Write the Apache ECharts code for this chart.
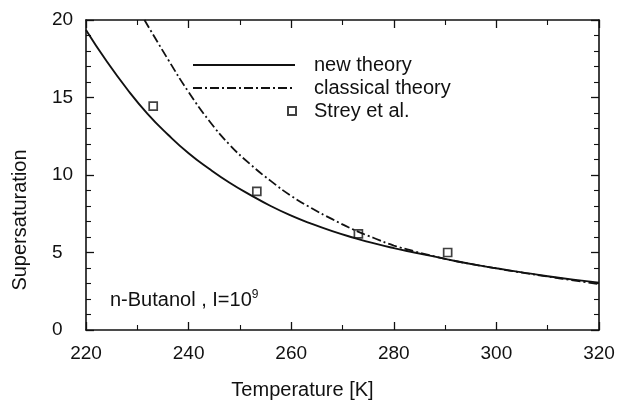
<!DOCTYPE html>
<html>
<head>
<meta charset="utf-8">
<script src="https://cdn.jsdelivr.net/npm/echarts@6.0.0/dist/echarts.min.js"></script>
<style>
  html, body { margin: 0; padding: 0; background: #fff; }
  #chart { width: 618px; height: 405px; }
</style>
</head>
<body>
<div id="chart"></div>
<script>
// values
const newTemps  = [220, 224, 228, 232, 236, 240, 244, 248, 252, 256, 260, 264, 268, 272, 276, 280, 284, 288, 292, 296, 300, 305, 310, 315, 320];
const newSat    = [19.36, 17.35, 15.55, 13.95, 12.6, 11.4, 10.4, 9.5, 8.72, 8.0, 7.38, 6.85, 6.38, 5.97, 5.6, 5.28, 5.0, 4.73, 4.45, 4.2, 3.98, 3.72, 3.47, 3.25, 3.06];

const classicTemps = [231.4, 236, 240, 244, 248, 252, 256, 260, 264, 268, 272, 276, 280, 284, 288, 292, 296, 300, 305, 310, 315, 320];
const classicSat   = [20, 17.45, 15.35, 13.5, 11.95, 10.7, 9.62, 8.65, 7.85, 7.15, 6.5, 5.95, 5.45, 5.08, 4.75, 4.45, 4.2, 3.97, 3.7, 3.45, 3.2, 2.97];

const streyTemps = [233.1, 253.3, 273.1, 290.5];
const streySat   = [14.45, 8.95, 6.2, 5.0];

const xTicks = [220, 240, 260, 280, 300, 320];
const yTicks = [0, 5, 10, 15, 20];

const ink = '#111';
const textFont = 'Liberation Sans';

const pair = (xs, ys) => xs.map((x, i) => [x, ys[i]]);

const axisBase = {
  axisLine: { show: true, onZero: false, lineStyle: { color: ink, width: 1.6 } },
  axisTick: { show: true, inside: true, length: 8, lineStyle: { color: ink, width: 1.3 } },
  minorTick: { show: true, length: 5, lineStyle: { color: ink, width: 1.1 } },
  splitLine: { show: false }
};

const myChart = echarts.init(document.getElementById('chart'));
myChart.setOption({
  animation: false,
  backgroundColor: '#fff',
  grid: { left: 86, right: 19, top: 20, bottom: 72 },
  title: {
    left: 105,
    top: 284,
    text: '{t|n-Butanol , I=10}{s|9}',
    textStyle: {
      rich: {
        t: { fontFamily: textFont, fontSize: 20, fontWeight: 'normal', color: ink },
        s: { fontFamily: textFont, fontSize: 12, fontWeight: 'normal', color: ink, verticalAlign: 'top', padding: [0, 0, 10, 0] }
      }
    }
  },
  legend: [
    {
      data: ['new theory', 'classical theory'],
      orient: 'vertical',
      left: 192,
      top: 55,
      padding: 0,
      itemWidth: 102,
      itemHeight: 14,
      itemGap: 3,
      itemStyle: { opacity: 0 },
      textStyle: { fontFamily: textFont, fontSize: 20, color: ink, lineHeight: 20, padding: [0, 0, 0, 14] }
    },
    {
      data: ['Strey et al.'],
      left: 287,
      top: 101,
      padding: 0,
      itemWidth: 8,
      itemHeight: 8,
      textStyle: { fontFamily: textFont, fontSize: 20, color: ink, lineHeight: 20, padding: [0, 0, 0, 13] }
    }
  ],
  xAxis: [
    Object.assign({}, axisBase, {
      type: 'value',
      min: xTicks[0],
      max: xTicks[xTicks.length - 1],
      interval: 20,
      minorTick: Object.assign({}, axisBase.minorTick, { splitNumber: 2 }),
      axisLabel: { fontFamily: textFont, fontSize: 19, color: ink, margin: 14 },
      name: 'Temperature [K]',
      nameLocation: 'middle',
      nameGap: 50,
      nameTextStyle: { fontFamily: textFont, fontSize: 20, color: ink, padding: [0, 80, 0, 0] }
    }),
    Object.assign({}, axisBase, {
      type: 'value',
      position: 'top',
      min: xTicks[0],
      max: xTicks[xTicks.length - 1],
      interval: 20,
      minorTick: Object.assign({}, axisBase.minorTick, { splitNumber: 2 }),
      axisLabel: { show: false }
    })
  ],
  yAxis: [
    Object.assign({}, axisBase, {
      type: 'value',
      min: yTicks[0],
      max: yTicks[yTicks.length - 1],
      interval: 5,
      minorTick: Object.assign({}, axisBase.minorTick, { splitNumber: 5 }),
      axisLabel: { fontFamily: textFont, fontSize: 19, color: ink, margin: 34, align: 'left' },
      name: 'Supersaturation',
      nameLocation: 'middle',
      nameGap: 56,
      nameTextStyle: { fontFamily: textFont, fontSize: 20, color: ink, padding: [0, 90, 0, 0] }
    }),
    Object.assign({}, axisBase, {
      type: 'value',
      position: 'right',
      min: yTicks[0],
      max: yTicks[yTicks.length - 1],
      interval: 5,
      minorTick: Object.assign({}, axisBase.minorTick, { splitNumber: 5 }),
      axisLabel: { show: false }
    })
  ],
  series: [
    {
      name: 'new theory',
      type: 'line',
      smooth: true,
      symbol: 'none',
      clip: true,
      data: pair(newTemps, newSat),
      lineStyle: { color: ink, width: 1.9 },
      itemStyle: { color: ink }
    },
    {
      name: 'classical theory',
      type: 'line',
      smooth: true,
      symbol: 'none',
      clip: true,
      data: pair(classicTemps, classicSat),
      lineStyle: { color: ink, width: 1.8, type: [9, 3, 2, 3] },
      itemStyle: { color: ink }
    },
    {
      name: 'Strey et al.',
      type: 'scatter',
      symbol: 'rect',
      symbolSize: 8,
      data: pair(streyTemps, streySat),
      itemStyle: { color: '#fff', borderColor: ink, borderWidth: 1.7 }
    }
  ]
});
</script>
</body>
</html>
